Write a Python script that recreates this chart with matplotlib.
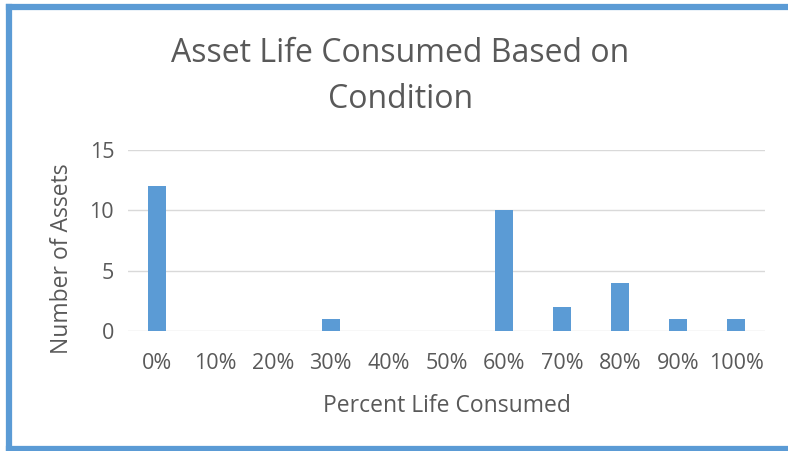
import matplotlib.pyplot as plt
from matplotlib.lines import Line2D

# ============================================================
# === Data
# ============================================================

categories = ["0%", "10%", "20%", "30%", "40%", "50%",
              "60%", "70%", "80%", "90%", "100%"]
counts = [12, 0, 0, 1, 0, 0, 10, 2, 4, 1, 1]
y_ticks = [0, 5, 10, 15]

BAR_COLOR = "#5b9bd5"
TEXT_COLOR = "#595959"
GRID_COLOR = "#d9d9d9"

plt.rcParams["font.family"] = ["Open Sans", "DejaVu Sans"]

# ============================================================
# === Figure
# ============================================================

fig = plt.figure(figsize=(7.88, 4.51), dpi=100)
ax = fig.add_axes([0.1624, 0.2661, 0.8084, 0.4013])

x = list(range(len(categories)))
ax.bar(x, counts, width=0.31, color=BAR_COLOR, zorder=3)

ax.set_xlim(-0.5, len(categories) - 0.5)
ax.set_ylim(0, 15)
ax.set_yticks(y_ticks)
ax.set_xticks(x)
ax.set_xticklabels(categories)

ax.grid(axis="y", color=GRID_COLOR, linewidth=1, zorder=0)
for side in ["top", "right", "left", "bottom"]:
    ax.spines[side].set_visible(False)
ax.tick_params(axis="both", length=0, labelsize=15.5, colors=TEXT_COLOR)
ax.tick_params(axis="x", pad=16)
ax.tick_params(axis="y", pad=10)

ax.set_xlabel("Percent Life Consumed", fontsize=16.5, color=TEXT_COLOR, labelpad=14)
ax.set_ylabel("Number of Assets", fontsize=16.5, color=TEXT_COLOR)
ax.yaxis.set_label_coords(-0.085, 0.40)

fig.text(0.508, 0.830, "Asset Life Consumed Based on\nCondition",
         ha="center", va="center", fontsize=23, color=TEXT_COLOR,
         linespacing=1.5)

# Blue frame (top, left, bottom edges)
frame_kw = dict(color=BAR_COLOR, linewidth=4.5, transform=fig.transFigure)
fig.add_artist(Line2D([0.011, 1.0], [0.985, 0.985], **frame_kw))
fig.add_artist(Line2D([0.011, 0.011], [0.0, 0.985], **frame_kw))
fig.add_artist(Line2D([0.011, 1.0], [0.005, 0.005], **frame_kw))

fig.savefig("out.png", dpi=100)
